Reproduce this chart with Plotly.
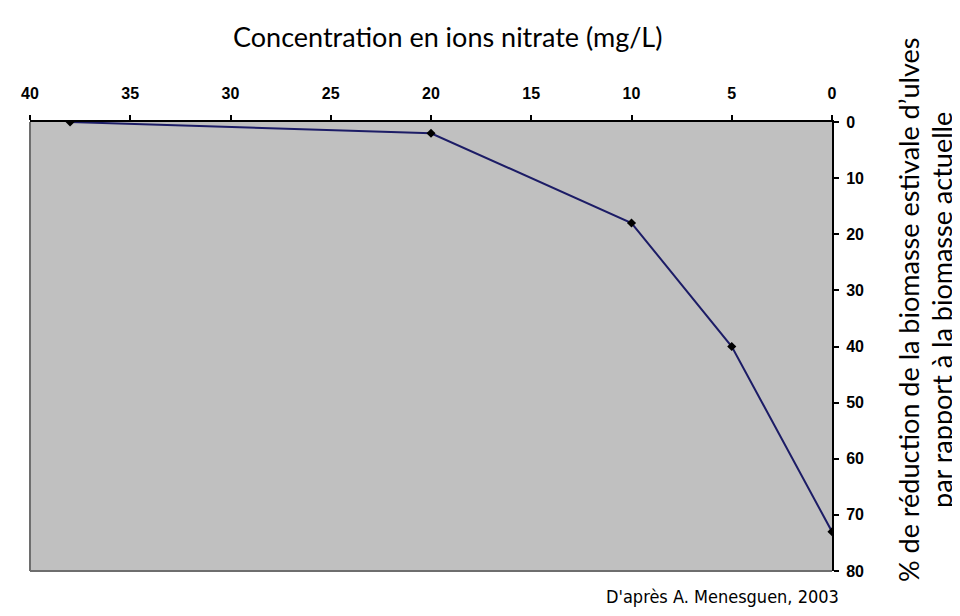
import plotly.graph_objects as go

# Data
nitrate = [38, 20, 10, 5, 0]
reduction = [0, 2, 18, 40, 73]
x_ticks = [40, 35, 30, 25, 20, 15, 10, 5, 0]
y_ticks = [0, 10, 20, 30, 40, 50, 60, 70, 80]

title_text = "Concentration en ions nitrate (mg/L)"
ytitle_1 = "% de réduction de la biomasse estivale d’ulves"
ytitle_2 = "par rapport à la biomasse actuelle"
source_text = "D'après A. Menesguen, 2003"

W, H = 960, 616
L, R, T, B = 22, 136, 114, 53
pw, ph = W - L - R, H - T - B

tick_font = dict(family="Liberation Sans, Arial, sans-serif", size=16, color="black", weight="bold")
title_font = dict(family="Lato, Open Sans, sans-serif", size=27, color="black")

fig = go.Figure()
fig.add_trace(go.Scatter(
    x=nitrate, y=reduction, mode="lines+markers",
    line=dict(color="#1c1c66", width=2),
    marker=dict(symbol="diamond", size=7, color="black"),
    showlegend=False, hoverinfo="x+y",
))

common_x = dict(range=[40, 0], tickvals=x_ticks, showgrid=False, zeroline=False)
common_y = dict(range=[80, 0], tickvals=y_ticks, showgrid=False, zeroline=False)

fig.update_layout(
    width=W, height=H,
    margin=dict(l=L, r=R, t=T, b=B, pad=0),
    paper_bgcolor="white",
    plot_bgcolor="#c0c0c0",
    xaxis=dict(**common_x, side="top", showline=True, linecolor="black", linewidth=2,
               ticks="outside", ticklen=5, tickwidth=2, tickcolor="black",
               tickfont=tick_font, ticklabelstandoff=10),
    xaxis2=dict(**common_x, overlaying="x", side="top", anchor="y", showline=False,
                ticks="inside", ticklen=5, tickwidth=2, tickcolor="black",
                showticklabels=False),
    yaxis=dict(**common_y, side="right", showline=True, linecolor="black", linewidth=2,
               ticks="outside", ticklen=5, tickwidth=2, tickcolor="black",
               tickfont=tick_font, ticklabelstandoff=4),
    yaxis2=dict(**common_y, overlaying="y", side="right", anchor="x", showline=False,
                ticks="inside", ticklen=5, tickwidth=2, tickcolor="black",
                showticklabels=False),
    shapes=[
        dict(type="line", xref="paper", yref="paper", x0=0, x1=0, y0=0, y1=1,
             line=dict(color="#6e6e6e", width=2)),
        dict(type="line", xref="paper", yref="paper", x0=0, x1=1, y0=0, y1=0,
             line=dict(color="#6e6e6e", width=2)),
    ],
    annotations=[
        dict(text=title_text, xref="paper", yref="paper",
             x=(440 - L) / pw, y=1 + (T - 28) / ph, xanchor="center", yanchor="middle",
             showarrow=False, font=title_font),
        dict(text=ytitle_1, xref="paper", yref="paper", textangle=-90,
             x=(900 - L) / pw, y=(H - B - 302) / ph, xanchor="center", yanchor="middle",
             showarrow=False, font=title_font),
        dict(text=ytitle_2, xref="paper", yref="paper", textangle=-90,
             x=(933 - L) / pw, y=(H - B - 302) / ph, xanchor="center", yanchor="middle",
             showarrow=False, font=title_font),
        dict(text=source_text, xref="paper", yref="paper",
             x=(714 - L) / pw, y=-(588 - (H - B)) / ph, xanchor="center", yanchor="middle",
             showarrow=False,
             font=dict(family="Liberation Sans Narrow, DejaVu Sans Condensed, sans-serif",
                       size=18, color="black")),
    ],
)

fig.write_html("out.html")
